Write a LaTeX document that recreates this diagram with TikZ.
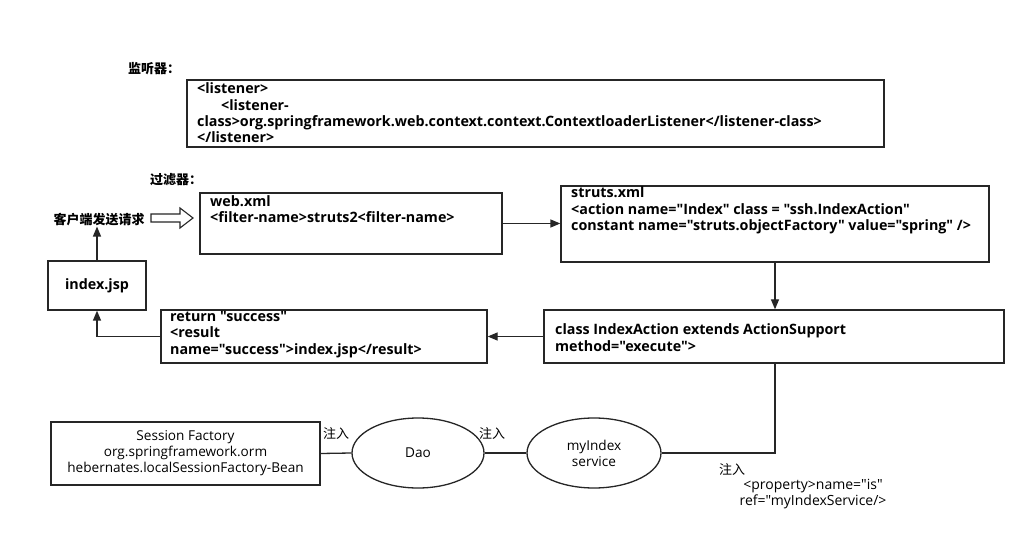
\documentclass[tikz,border=0pt]{standalone}
\usepackage{fontspec}
\setmainfont{Open Sans}[Ligatures=TeXOff]
\newfontfamily\cjk{Noto Sans CJK SC}
\usetikzlibrary{arrows.meta,shapes.geometric}
\tikzset{
  box/.style={draw=black!85, line width=1.3pt, inner sep=0pt},
  ell/.style={draw=black!85, line width=1.3pt, ellipse, inner sep=0pt},
  code/.style={font=\fontsize{14.3}{16.3}\selectfont\bfseries, align=left, anchor=west, inner sep=0pt},
  plain/.style={font=\fontsize{13.6}{16}\selectfont, align=center, inner sep=0pt},
  cn/.style={font=\cjk\fontsize{13}{16}\selectfont, inner sep=0pt},
  cnb/.style={font=\cjk\fontsize{13}{16}\selectfont\bfseries, inner sep=0pt},
  conn/.style={draw=black!85, line width=1.3pt},
  arr/.style={conn, -{Triangle[length=10pt,width=8pt]}},
}
\begin{document}
\begin{tikzpicture}[x=1pt,y=-1pt]
\useasboundingbox[fill=white] (0,0) rectangle (1036,545);
% labels
\node[cnb] (lsn) at (154,69) {监听器：};
\node[cnb] (flt) at (176,180) {过滤器：};
\node[cnb] (client) at (99,220) {客户端发送请求};
% listener box
\node[box, minimum width=697pt, minimum height=67pt] (lbox) at (535.5,113.5) {};
\node[code] (ltext) at (197,113) {<listener>\\\hspace*{24pt}<listener-\\class>org.springframework.web.context.context.ContextloaderListener</listener-class>\\</listener>};
% web.xml
\node[box, minimum width=302pt, minimum height=61pt] (web) at (351,223.5) {};
\node[code] (webt) at (210,209) {web.xml\\<filter-name>struts2<filter-name>};
% struts
\node[box, minimum width=428pt, minimum height=76pt] (struts) at (775,224) {};
\node[code] (strutst) at (571,210.5) {struts.xml\\<action name="Index" class = "ssh.IndexAction"\\constant name="struts.objectFactory" value="spring" />};
% index.jsp
\node[box, minimum width=98pt, minimum height=49pt, font=\fontsize{14.3}{16}\selectfont\bfseries] (idx) at (97,285.5) {index.jsp};
% return
\node[box, minimum width=326pt, minimum height=53pt] (ret) at (324,336.5) {};
\node[code] (rett) at (170,334.5) {return "success"\\<result\\name="success">index.jsp</result>};
% IndexAction
\node[box, minimum width=460pt, minimum height=53pt] (ia) at (774,336.5) {};
\node[code] (iat) at (555,337.5) {class IndexAction extends ActionSupport\\method="execute">};
% Session factory
\node[box, minimum width=269pt, minimum height=63pt, plain] (sf) at (185.5,453.5) {Session Factory\\org.springframework.orm\\hebernates.localSessionFactory-Bean};
% ellipses
\node[ell, minimum width=132pt, minimum height=70pt, plain] (dao) at (418,453) {Dao};
\node[ell, minimum width=134pt, minimum height=70pt, plain] (svc) at (594,453) {myIndex\\service};
% injection labels
\node[cn] (inj1) at (336,433) {注入};
\node[cn] (inj2) at (492,433) {注入};
\node[cn] (inj3) at (732,469) {注入};
\node[plain, font=\fontsize{14}{16}\selectfont] (prop) at (813,494) {<property>name="is"\\ref="myIndexService/>};
% hollow arrow
\draw[conn, line width=1.1pt] (151,214) -- (180,214) -- (180,208) -- (193,218) -- (180,228) -- (180,222) -- (151,222) -- cycle;
% connectors
\draw[arr] (web.east) -- (web.east -| struts.west);
\draw[arr] (struts.south) -- (struts.south |- ia.north);
\draw[arr] (ia.west) -- (ia.west -| ret.east);
\draw[arr] (ret.west) -| (idx.south);
\draw[arr] (idx.north) -- (idx.north |- client.south);
\draw[conn] (ia.south -| struts.south) |- (svc.east);
\draw[conn] (svc.west) -- (dao.east);
\draw[conn] (dao.west) -- (sf.east);
\end{tikzpicture}
\end{document}
